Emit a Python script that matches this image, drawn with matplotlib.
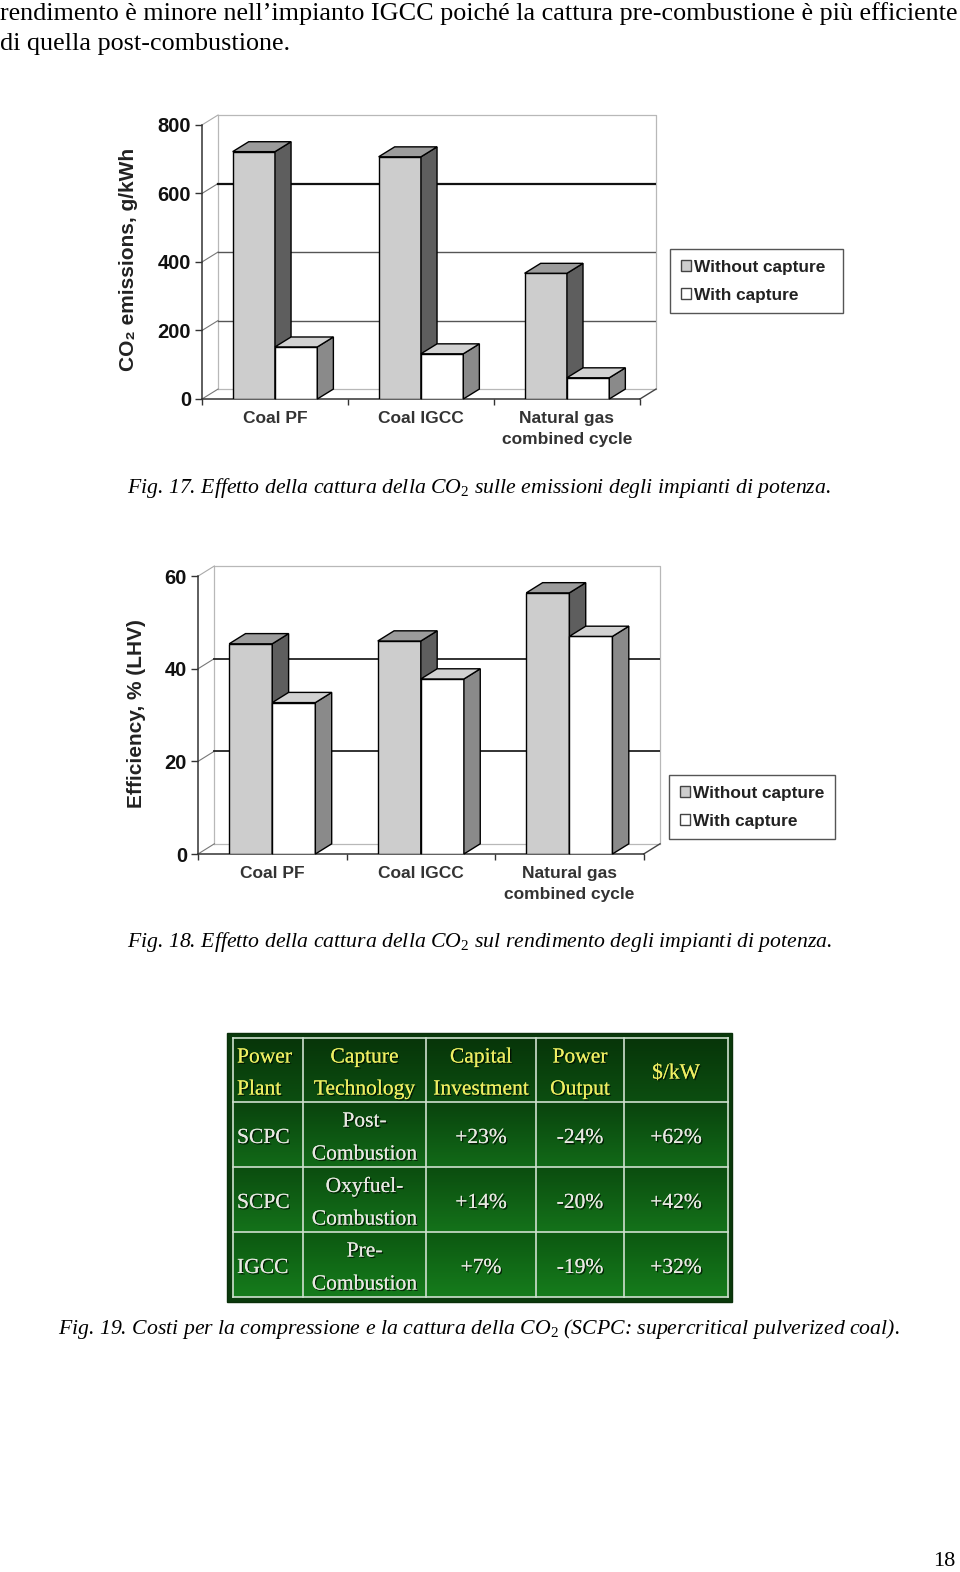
import numpy as np
import matplotlib
matplotlib.use("Agg")
import matplotlib.pyplot as plt
from matplotlib.patches import Polygon, Rectangle, Patch
from matplotlib.colors import LinearSegmentedColormap
import matplotlib.patheffects as pe

# Dati dei grafici
categories = ["Coal PF", "Coal IGCC", "Natural gas\ncombined cycle"]
legend_labels = ["Without capture", "With capture"]
emis_without = [722, 707, 367]
emis_with = [152, 132, 62]
emis_ticks = [0, 200, 400, 600, 800]
eff_without = [45.4, 46.0, 56.4]
eff_with = [32.7, 37.8, 47.0]
eff_ticks = [0, 20, 40, 60]

# Dati della tabella
table_header = ["Power\nPlant", "Capture\nTechnology", "Capital\nInvestment", "Power\nOutput", "$/kW"]
table_rows = [
    ["SCPC", "Post-\nCombustion", "+23%", "-24%", "+62%"],
    ["SCPC", "Oxyfuel-\nCombustion", "+14%", "-20%", "+42%"],
    ["IGCC", "Pre-\nCombustion", "+7%", "-19%", "+32%"],
]

plt.rcParams["font.family"] = ["Liberation Sans", "DejaVu Sans"]
plt.rcParams["mathtext.fontset"] = "custom"
plt.rcParams["mathtext.rm"] = "Liberation Serif"
plt.rcParams["mathtext.it"] = "Liberation Serif:italic"

W, H = 960, 1572
fig = plt.figure(figsize=(W / 100, H / 100), dpi=100)


def rect(left, top, right, bottom):
    return [left / W, 1 - bottom / H, (right - left) / W, (bottom - top) / H]


# pagina (coordinate in pixel)
page = fig.add_axes([0, 0, 1, 1])
page.set_xlim(0, W)
page.set_ylim(H, 0)
page.axis("off")

serif = ["Liberation Serif", "DejaVu Serif"]
page.text(0, 20, "rendimento è minore nell’impianto IGCC poiché la cattura pre-combustione è più efficiente",
          family=serif, fontsize=18.8, va="baseline")
page.text(0, 50, "di quella post-combustione.", family=serif, fontsize=18.8, va="baseline")

cap_kw = dict(family=serif, style="italic", fontsize=15.65, va="baseline")
page.text(127, 493, r"Fig. 17. Effetto della cattura della CO$_\mathrm{2}$ sulle emissioni degli impianti di potenza.", **cap_kw)
page.text(127, 947, r"Fig. 18. Effetto della cattura della CO$_\mathrm{2}$ sul rendimento degli impianti di potenza.", **cap_kw)
page.text(58, 1334, r"Fig. 19. Costi per la compressione e la cattura della CO$_\mathrm{2}$ (SCPC: supercritical pulverized coal).", **cap_kw)
page.text(955, 1566, "18", family=serif, fontsize=16, ha="right", va="baseline")


def bar3d(ax, x, h, w, dx, dy, front, side, top, z):
    ax.bar(x, h, w, align="edge", color=front, edgecolor="black", linewidth=1, zorder=z)
    for xi, hi in zip(x, h):
        ax.add_patch(Polygon([(xi + w, 0), (xi + w + dx, dy), (xi + w + dx, hi + dy), (xi + w, hi)],
                             fc=side, ec="black", lw=1, zorder=z, clip_on=False))
        ax.add_patch(Polygon([(xi, hi), (xi + dx, hi + dy), (xi + w + dx, hi + dy), (xi + w, hi)],
                             fc=top, ec="black", lw=1, zorder=z, clip_on=False))


def chart(pos, without, with_, ticks, dy, grid, ylabel, ylab_xy, leg_box):
    ax = fig.add_axes(pos)
    ax.set_facecolor("none")
    dx, w = 0.11, 0.29
    n = len(categories)
    ymax = ticks[-1]
    ax.set_xlim(0, n + dx)
    ax.set_ylim(0, ymax + dy)

    # parete di fondo e pavimento
    wall = "#b8b8b8"
    ax.plot([dx, dx, n + dx, n + dx], [dy, ymax + dy, ymax + dy, dy], color=wall, lw=0.9, zorder=1, clip_on=False)
    ax.plot([dx, n + dx], [dy, dy], color=wall, lw=0.9, zorder=1)
    ax.plot([n, n + dx], [0, dy], color="#444", lw=1, zorder=1, clip_on=False)
    for v in ticks[:-1]:
        ax.plot([0, dx], [v, v + dy], color="#777", lw=0.8, zorder=1, clip_on=False)
    ax.plot([0, dx], [ymax, ymax + dy], color="#aaa", lw=0.8, zorder=1, clip_on=False)
    for v, c, lw in grid:
        ax.plot([dx, n + dx], [v + dy, v + dy], color=c, lw=lw, zorder=1)

    centers = np.arange(n) + 0.5
    bar3d(ax, centers - w, without, w, dx, dy, "#cdcdcd", "#5e5e5e", "#9c9c9c", 3)
    bar3d(ax, centers, with_, w, dx, dy, "#ffffff", "#8a8a8a", "#d2d2d2", 4)

    for s in ["top", "right"]:
        ax.spines[s].set_visible(False)
    ax.spines["left"].set_bounds(0, ymax)
    ax.spines["bottom"].set_bounds(0, n)
    for s in ["left", "bottom"]:
        ax.spines[s].set_color("#333")
        ax.spines[s].set_linewidth(1.1)

    ax.set_yticks(ticks)
    ax.tick_params(axis="y", length=5, width=1, color="#333", pad=3, labelsize=14.5, labelcolor="#111")
    for t in ax.get_yticklabels():
        t.set_fontweight("bold")
    ax.set_xticks(np.arange(n + 1))
    ax.set_xticklabels([])
    ax.tick_params(axis="x", which="major", length=4, width=1, color="#333")
    ax.set_xticks(centers, minor=True)
    ax.set_xticklabels(categories, minor=True, fontsize=12.5, fontweight="bold", color="#333", linespacing=1.55)
    ax.tick_params(axis="x", which="minor", length=0, pad=8.5)

    ax.set_ylabel(ylabel, fontsize=15, fontweight="bold", color="#222")
    ax.yaxis.set_label_coords(*ylab_xy)

    handles = [Patch(fc="#cdcdcd", ec="#444"), Patch(fc="white", ec="#444")]
    l, t, r, b = leg_box
    leg = fig.legend(handles, legend_labels, loc="upper left",
                     bbox_to_anchor=(l / W, 1 - b / H, (r - l) / W, (b - t) / H), mode="expand",
                     prop=dict(weight="bold", size=12.4), fancybox=False, framealpha=1,
                     edgecolor="#555", handlelength=0.6, handleheight=0.6, handletextpad=0.2,
                     labelspacing=0.75, borderpad=0.62, borderaxespad=0)
    leg.get_frame().set_linewidth(1)
    for tx in leg.get_texts():
        tx.set_color("#222")
    return ax


chart(rect(202, 115, 656, 399), emis_without, emis_with, emis_ticks, 29,
      [(200, "#555", 1.0), (400, "#555", 1.0), (600, "#111", 1.6)],
      "CO₂ emissions, g/kWh", (-0.141, 0.49), (670, 249, 843, 313))
chart(rect(198, 566, 660, 854), eff_without, eff_with, eff_ticks, 2.2,
      [(20, "#222", 1.3), (40, "#222", 1.3)],
      "Efficiency, % (LHV)", (-0.113, 0.486), (669, 775, 835, 838))

# tabella
col_x = [233, 303, 426, 536, 624, 728]
row_y = [1038, 1102, 1167, 1232, 1297]
page.add_patch(Rectangle((227, 1033), 505, 269, fc="#0a3a0c", ec="#0a300a", lw=1, zorder=1))
row_cols = [("#073509", "#0c4e10"), ("#09430d", "#126a18"), ("#0b4d0f", "#14721a"), ("#0c5811", "#167c1c")]
for i, (c0, c1) in enumerate(row_cols):
    cmap = LinearSegmentedColormap.from_list("g%d" % i, [c0, c1])
    grad = np.linspace(0, 1, 64).reshape(-1, 1)
    page.imshow(grad, cmap=cmap, extent=(col_x[0], col_x[-1], row_y[i + 1], row_y[i]),
                aspect="auto", zorder=2, interpolation="bilinear")
page.set_xlim(0, W)
page.set_ylim(H, 0)
line_c = "#cfe0cf"
for x in col_x:
    page.plot([x, x], [row_y[0], row_y[-1]], color=line_c, lw=1.2, zorder=3)
for y in row_y:
    page.plot([col_x[0], col_x[-1]], [y, y], color=line_c, lw=1.2, zorder=3)

shadow = [pe.withSimplePatchShadow(offset=(1, -1), shadow_rgbFace="black", alpha=0.7), pe.Normal()]


def cell_text(txt, col, r0, r1, color, gap):
    lines = txt.split("\n")
    yc = (r0 + r1) / 2 + 4
    if col == 0:
        x, ha = col_x[0] + 4, "left"
    else:
        x, ha = (col_x[col] + col_x[col + 1]) / 2, "center"
    for k, ln in enumerate(lines):
        y = yc + (k - (len(lines) - 1) / 2) * gap
        page.text(x, y, ln, family=serif, fontsize=15.5, color=color, ha=ha, va="center",
                  zorder=4, path_effects=shadow)


for j, h in enumerate(table_header):
    cell_text(h, j, row_y[0], row_y[1], "#eeee62", 32)
for i, row in enumerate(table_rows):
    for j, v in enumerate(row):
        cell_text(v, j, row_y[i + 1], row_y[i + 2], "#e8e8e2", 33)

fig.savefig("out.png", dpi=100)
